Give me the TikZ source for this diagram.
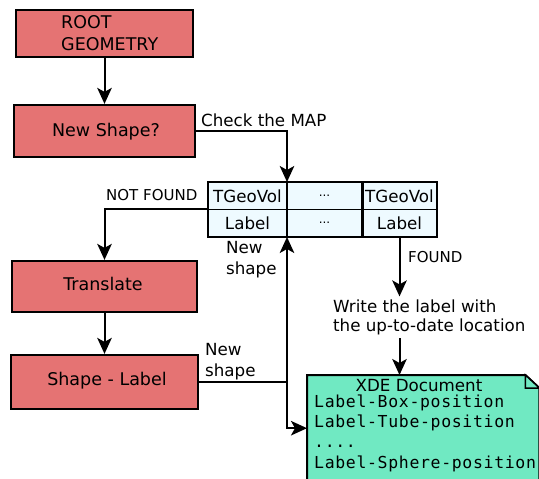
\documentclass[tikz,border=0pt]{standalone}
\usepackage{fontspec}
\setmainfont{DejaVu Sans}
\setmonofont{DejaVu Sans Mono}[LetterSpace=4]
\usetikzlibrary{arrows.meta}
\definecolor{boxred}{RGB}{229,115,115}
\definecolor{cellblue}{RGB}{238,250,255}
\definecolor{docgreen}{RGB}{112,233,194}
\tikzset{
 redbox/.style={draw=black, line width=2.2pt, fill=boxred, inner sep=0},
 boxtxt/.style={font=\fontsize{17.5}{22}\selectfont, inner sep=0},
 cell/.style={draw=black, line width=1pt, fill=cellblue, inner sep=0, minimum height=27, anchor=north west, font=\fontsize{16.7}{20}\selectfont},
 dotcell/.style={cell, font=\fontsize{12}{12}\selectfont},
 conn/.style={draw=black, line width=2pt, -{Stealth[length=16pt,width=14.5pt,inset=4pt]}},
 wire/.style={draw=black, line width=2pt},
 txt/.style={font=\fontsize{16.7}{20.5}\selectfont, inner sep=0},
 smalltxt/.style={font=\fontsize{15}{17}\selectfont, inner sep=0},
 monotxt/.style={font=\ttfamily\fontsize{16.5}{20}\selectfont, inner sep=0, anchor=base west},
}
\begin{document}
\begin{tikzpicture}[x=1pt,y=-1pt]
\useasboundingbox[fill=white] (0,0) rectangle (539,479);
% red boxes
\node[redbox, minimum width=177, minimum height=47] (root) at (104.5,33.5) {};
\node[boxtxt, anchor=base west, align=left] (roottxt) at (61,50) {ROOT\\GEOMETRY};
\node[redbox, minimum width=181, minimum height=52] (newshape) at (104.5,131) {};
\node[boxtxt, anchor=base] (newshapetxt) at (106,136.7) {New Shape?};
\node[redbox, minimum width=185, minimum height=51] (translate) at (104.5,286.5) {};
\node[boxtxt, anchor=base] (translatetxt) at (103,290) {Translate};
\node[redbox, minimum width=187, minimum height=54] (shapelabel) at (104.5,382) {};
\node[boxtxt, anchor=base] (shapelabeltxt) at (107,385.7) {Shape - Label};
% table
\node[cell, minimum width=78] (c11) at (208,182) {TGeoVol};
\node[dotcell, minimum width=76] (c12) at (286,182) {...};
\node[cell, minimum width=74] (c13) at (362,182) {TGeoVol};
\node[cell, minimum width=78] (c21) at (208,209) {Label};
\node[dotcell, minimum width=76] (c22) at (286,209) {...};
\node[cell, minimum width=74] (c23) at (362,209) {Label};
\draw[line width=2pt] (c11.north west) rectangle (c22.south east);
\draw[line width=2pt] (c13.north west) rectangle (c23.south east);
\draw[line width=2pt] (c11.north east) -- (c21.south east);
% document
\node[inner sep=0, minimum width=232, minimum height=106, anchor=north west] (doc) at (307,375) {};
\draw[line width=2pt, fill=docgreen] (doc.north west) -- ([xshift=-14pt]doc.north east) -- ([yshift=-13pt]doc.north east) -- (doc.south east) -- (doc.south west) -- cycle;
\draw[line width=1.5pt, fill=docgreen] ([xshift=-14pt]doc.north east) -- ([xshift=-14pt,yshift=-13pt]doc.north east) -- ([yshift=-13pt]doc.north east) -- cycle;
\node[txt, anchor=base] (xde) at (419,391.8) {XDE Document};
\node[monotxt] (l1) at (314,407.5) {Label-Box-position};
\node[monotxt] (l2) at (314,427) {Label-Tube-position};
\node[monotxt] (l3) at (314,447) {....};
\node[monotxt] (l4) at (314,468) {Label-Sphere-position};
% texts
\node[txt, anchor=base west] (checkmap) at (201,126) {Check the MAP};
\node[smalltxt, anchor=base west] (notfound) at (106,200.7) {NOT FOUND};
\node[smalltxt, anchor=base west] (found) at (408,262.7) {FOUND};
\node[txt, anchor=base west, align=left] (ns1) at (226,274) {New\\shape};
\node[txt, anchor=base west, align=left] (ns2) at (205,376) {New\\shape};
\node[txt, anchor=base west, align=left, inner sep=3pt, font=\fontsize{16.7}{19.4}\selectfont] (write) at (330,331.7) {Write the label with\\the up-to-date location};
% connectors
\draw[conn] (root) -- (newshape);
\draw[conn] (newshape.east) -| (c11.north east);
\draw[conn] (c21.north west) -| (translate.north);
\draw[conn] (translate) -- (shapelabel);
\coordinate (junction) at (shapelabel.east -| c21.south east);
\draw[wire] (shapelabel.east) -- (junction);
\draw[conn] (junction) -- (c21.south east);
\draw[conn] (junction) |- (doc.west);
\draw[conn] (c23.south) -- (c23.south |- write.north);
\draw[conn] (write.south -| c23.south) -- (doc.north -| c23.south);
\end{tikzpicture}
\end{document}
